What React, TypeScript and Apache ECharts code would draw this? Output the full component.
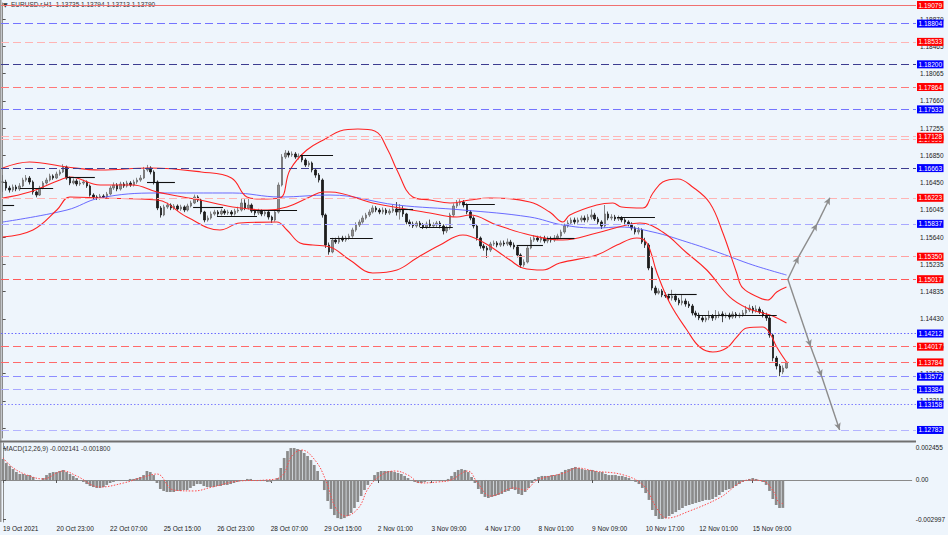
import React, { useEffect, useRef } from 'react';
import * as echarts from 'echarts';

const N_SLOTS = 272;
const LABEL_STEP = 16;
const FONT = '"Liberation Sans", Arial, sans-serif';

const timeLabels = ['19 Oct 2021', '20 Oct 23:00', '22 Oct 07:00', '25 Oct 15:00', '26 Oct 23:00', '28 Oct 07:00', '29 Oct 15:00', '2 Nov 01:00', '3 Nov 09:00', '4 Nov 17:00', '8 Nov 01:00', '9 Nov 09:00', '10 Nov 17:00', '12 Nov 01:00', '15 Nov 09:00'];

const closes = [
  1.16457, 1.16368, 1.16338, 1.16383, 1.16353, 1.16398, 1.16486, 1.16516, 1.16457, 1.16309,
  1.16264, 1.16368, 1.16442, 1.16486, 1.16546, 1.16516, 1.16575, 1.16605, 1.16679, 1.16516,
  1.16442, 1.16472, 1.16427, 1.16442, 1.16457, 1.16398, 1.16264, 1.16235, 1.16220, 1.16249,
  1.16235, 1.16279, 1.16368, 1.16412, 1.16353, 1.16427, 1.16398, 1.16442, 1.16412, 1.16457,
  1.16486, 1.16516, 1.16635, 1.16664, 1.16605, 1.16457, 1.16072, 1.15968, 1.16087, 1.16116,
  1.16072, 1.16101, 1.16057, 1.16087, 1.16042, 1.16101, 1.16146, 1.16235, 1.16190, 1.16012,
  1.15894, 1.15923, 1.15983, 1.16012, 1.15983, 1.16027, 1.15998, 1.16012, 1.15983, 1.16027,
  1.16042, 1.16146, 1.16072, 1.16116, 1.16027, 1.15998, 1.16027, 1.15983, 1.16012, 1.15938,
  1.15894, 1.16012, 1.16412, 1.16827, 1.16886, 1.16857, 1.16872, 1.16827, 1.16842, 1.16783,
  1.16709, 1.16738, 1.16635, 1.16560, 1.16486, 1.15968, 1.15523, 1.15420, 1.15597, 1.15568,
  1.15627, 1.15597, 1.15627, 1.15656, 1.15746, 1.15820, 1.15864, 1.15923, 1.15968, 1.16012,
  1.16072, 1.16042, 1.16012, 1.16042, 1.15998, 1.16027, 1.16057, 1.16012, 1.16042, 1.15983,
  1.15864, 1.15835, 1.15805, 1.15849, 1.15820, 1.15790, 1.15835, 1.15805, 1.15820, 1.15849,
  1.15805, 1.15731, 1.15775, 1.15968, 1.16101, 1.16146, 1.16161, 1.16116, 1.16012, 1.15923,
  1.15805, 1.15627, 1.15509, 1.15479, 1.15449, 1.15538, 1.15553, 1.15523, 1.15553, 1.15538,
  1.15568, 1.15523, 1.15494, 1.15375, 1.15227, 1.15271, 1.15479, 1.15597, 1.15627, 1.15597,
  1.15627, 1.15583, 1.15612, 1.15597, 1.15627, 1.15656, 1.15716, 1.15805, 1.15849, 1.15894,
  1.15864, 1.15894, 1.15923, 1.15894, 1.15938, 1.15968, 1.15909, 1.15864, 1.15805, 1.15983,
  1.15923, 1.15938, 1.15909, 1.15923, 1.15894, 1.15864, 1.15835, 1.15775, 1.15716, 1.15746,
  1.15568, 1.15523, 1.15183, 1.14887, 1.14812, 1.14842, 1.14783, 1.14768, 1.14738, 1.14768,
  1.14709, 1.14664, 1.14694, 1.14649, 1.14620, 1.14516, 1.14486, 1.14442, 1.14412, 1.14442,
  1.14472, 1.14442, 1.14472, 1.14501, 1.14472, 1.14486, 1.14457, 1.14501, 1.14472, 1.14486,
  1.14516, 1.14560, 1.14590, 1.14546, 1.14575, 1.14531, 1.14486, 1.14442, 1.14190, 1.13849,
  1.13731, 1.13642, 1.13701, 1.13790,
];

const highs = [
  1.16560, 1.16490, 1.16400, 1.16420, 1.16415, 1.16440, 1.16520, 1.16560, 1.16545, 1.16480,
  1.16330, 1.16400, 1.16470, 1.16520, 1.16580, 1.16570, 1.16610, 1.16640, 1.16720, 1.16700,
  1.16540, 1.16510, 1.16500, 1.16480, 1.16490, 1.16480, 1.16420, 1.16290, 1.16260, 1.16280,
  1.16275, 1.16310, 1.16400, 1.16450, 1.16440, 1.16460, 1.16455, 1.16475, 1.16470, 1.16490,
  1.16520, 1.16560, 1.16680, 1.16710, 1.16690, 1.16630, 1.16480, 1.16100, 1.16120, 1.16150,
  1.16140, 1.16130, 1.16125, 1.16120, 1.16110, 1.16135, 1.16180, 1.16270, 1.16260, 1.16210,
  1.16030, 1.15960, 1.16020, 1.16045, 1.16040, 1.16060, 1.16055, 1.16045, 1.16040, 1.16060,
  1.16090, 1.16220, 1.16200, 1.16210, 1.16140, 1.16050, 1.16060, 1.16050, 1.16040, 1.16030,
  1.15960, 1.16050, 1.16450, 1.16870, 1.16930, 1.16920, 1.16910, 1.16900, 1.16880, 1.16870,
  1.16810, 1.16770, 1.16760, 1.16660, 1.16590, 1.16510, 1.15990, 1.15560, 1.15630, 1.15630,
  1.15660, 1.15660, 1.15660, 1.15690, 1.15780, 1.15860, 1.15900, 1.15960, 1.16000, 1.16050,
  1.16110, 1.16100, 1.16070, 1.16080, 1.16070, 1.16060, 1.16120, 1.16160, 1.16130, 1.16100,
  1.16000, 1.15900, 1.15870, 1.15880, 1.15880, 1.15850, 1.15870, 1.15900, 1.15860, 1.15880,
  1.15880, 1.15830, 1.15810, 1.16000, 1.16140, 1.16190, 1.16200, 1.16190, 1.16140, 1.16040,
  1.15950, 1.15830, 1.15650, 1.15540, 1.15510, 1.15570, 1.15590, 1.15580, 1.15590, 1.15590,
  1.15620, 1.15600, 1.15560, 1.15520, 1.15400, 1.15310, 1.15510, 1.15640, 1.15670, 1.15660,
  1.15660, 1.15660, 1.15650, 1.15650, 1.15670, 1.15690, 1.15750, 1.15840, 1.15890, 1.15930,
  1.15930, 1.15930, 1.15960, 1.15960, 1.15980, 1.16050, 1.16000, 1.15940, 1.15890, 1.16116,
  1.16020, 1.15980, 1.15970, 1.15960, 1.15950, 1.15920, 1.15890, 1.15860, 1.15800, 1.15790,
  1.15770, 1.15630, 1.15550, 1.15210, 1.14920, 1.14880, 1.14870, 1.14820, 1.14800, 1.14860,
  1.14800, 1.14740, 1.14790, 1.14730, 1.14690, 1.14650, 1.14550, 1.14520, 1.14470, 1.14480,
  1.14550, 1.14500, 1.14560, 1.14540, 1.14540, 1.14520, 1.14520, 1.14540, 1.14530, 1.14520,
  1.14560, 1.14620, 1.14640, 1.14620, 1.14630, 1.14610, 1.14560, 1.14520, 1.14470, 1.14210,
  1.13880, 1.13760, 1.13740, 1.13794,
];

const lows = [
  1.16309, 1.16330, 1.16300, 1.16310, 1.16320, 1.16325, 1.16380, 1.16460, 1.16420, 1.16270,
  1.16230, 1.16250, 1.16350, 1.16420, 1.16465, 1.16490, 1.16500, 1.16550, 1.16590, 1.16490,
  1.16410, 1.16420, 1.16395, 1.16400, 1.16415, 1.16370, 1.16240, 1.16205, 1.16190, 1.16195,
  1.16205, 1.16210, 1.16260, 1.16340, 1.16320, 1.16330, 1.16370, 1.16375, 1.16385, 1.16390,
  1.16430, 1.16460, 1.16500, 1.16610, 1.16570, 1.16420, 1.16040, 1.15930, 1.15950, 1.16060,
  1.16040, 1.16045, 1.16030, 1.16030, 1.16010, 1.16020, 1.16080, 1.16130, 1.16160, 1.15980,
  1.15860, 1.15870, 1.15900, 1.15960, 1.15955, 1.15960, 1.15970, 1.15970, 1.15955, 1.15960,
  1.16000, 1.16020, 1.16040, 1.16050, 1.16000, 1.15960, 1.15970, 1.15950, 1.15950, 1.15900,
  1.15850, 1.15870, 1.15990, 1.16390, 1.16800, 1.16820, 1.16830, 1.16800, 1.16790, 1.16750,
  1.16680, 1.16680, 1.16600, 1.16520, 1.16450, 1.15930, 1.15480, 1.15380, 1.15400, 1.15540,
  1.15540, 1.15570, 1.15570, 1.15600, 1.15630, 1.15720, 1.15790, 1.15840, 1.15900, 1.15940,
  1.15990, 1.16010, 1.15980, 1.15980, 1.15970, 1.15970, 1.16000, 1.15960, 1.15900, 1.15940,
  1.15830, 1.15800, 1.15775, 1.15780, 1.15790, 1.15760, 1.15760, 1.15775, 1.15775, 1.15790,
  1.15770, 1.15680, 1.15700, 1.15750, 1.15940, 1.16070, 1.16110, 1.16080, 1.15980, 1.15890,
  1.15770, 1.15590, 1.15470, 1.15440, 1.15331, 1.15420, 1.15510, 1.15490, 1.15495, 1.15505,
  1.15510, 1.15490, 1.15460, 1.15340, 1.15183, 1.15200, 1.15250, 1.15460, 1.15570, 1.15570,
  1.15560, 1.15550, 1.15550, 1.15560, 1.15570, 1.15600, 1.15630, 1.15690, 1.15780, 1.15820,
  1.15830, 1.15840, 1.15860, 1.15860, 1.15860, 1.15900, 1.15880, 1.15830, 1.15760, 1.15780,
  1.15890, 1.15890, 1.15880, 1.15880, 1.15860, 1.15830, 1.15800, 1.15740, 1.15680, 1.15680,
  1.15540, 1.15480, 1.15150, 1.14850, 1.14780, 1.14790, 1.14750, 1.14740, 1.14700, 1.14700,
  1.14680, 1.14630, 1.14630, 1.14610, 1.14590, 1.14480, 1.14450, 1.14410, 1.14380, 1.14380,
  1.14410, 1.14400, 1.14410, 1.14440, 1.14380, 1.14440, 1.14420, 1.14430, 1.14440, 1.14440,
  1.14460, 1.14490, 1.14530, 1.14510, 1.14520, 1.14500, 1.14450, 1.14400, 1.14150, 1.13800,
  1.13680, 1.13580, 1.13610, 1.13690,
];

const macdValues = [
  0.00161, 0.00130, 0.00107, 0.00084, 0.00061, 0.00046, 0.00046, 0.00038, 0.00038, 0.00023,
  0.00000, -0.00008, 0.00015, 0.00038, 0.00054, 0.00061, 0.00061, 0.00069, 0.00077, 0.00061,
  0.00046, 0.00031, 0.00015, 0.00000, -0.00015, -0.00031, -0.00046, -0.00054, -0.00061, -0.00061,
  -0.00054, -0.00038, -0.00023, -0.00015, -0.00008, -0.00008, 0.00000, 0.00000, 0.00008, 0.00008,
  0.00015, 0.00023, 0.00038, 0.00069, 0.00061, 0.00038, -0.00023, -0.00069, -0.00084, -0.00092,
  -0.00092, -0.00092, -0.00084, -0.00084, -0.00077, -0.00077, -0.00061, -0.00046, -0.00031, -0.00031,
  -0.00046, -0.00054, -0.00054, -0.00054, -0.00046, -0.00046, -0.00038, -0.00038, -0.00031, -0.00023,
  -0.00015, -0.00008, 0.00000, 0.00008, 0.00008, 0.00000, -0.00008, -0.00008, -0.00008, -0.00015,
  -0.00015, -0.00008, 0.00015, 0.00092, 0.00169, 0.00222, 0.00245, 0.002455, 0.00238, 0.00230,
  0.00207, 0.00184, 0.00153, 0.00115, 0.00069, 0.00000, -0.00077, -0.00161, -0.00222, -0.00269,
  -0.00292, -0.002997, -0.00292, -0.00276, -0.00253, -0.00215, -0.00169, -0.00123, -0.00077, -0.00038,
  0.00000, 0.00038, 0.00061, 0.00069, 0.00069, 0.00069, 0.00069, 0.00061, 0.00054, 0.00046,
  0.00031, 0.00015, 0.00000, -0.00015, -0.00023, -0.00023, -0.00015, -0.00008, -0.00008, -0.00008,
  -0.00008, -0.00008, -0.00008, 0.00008, 0.00031, 0.00061, 0.00077, 0.00084, 0.00077, 0.00061,
  0.00023, -0.00023, -0.00069, -0.00107, -0.00130, -0.00138, -0.00130, -0.00123, -0.00115, -0.00107,
  -0.00092, -0.00084, -0.00069, -0.00077, -0.00107, -0.00115, -0.00092, -0.00061, -0.00023, 0.00008,
  0.00023, 0.00031, 0.00031, 0.00031, 0.00038, 0.00038, 0.00046, 0.00061, 0.00077, 0.00084,
  0.00092, 0.00100, 0.00092, 0.00084, 0.00077, 0.00077, 0.00077, 0.00069, 0.00061, 0.00061,
  0.00046, 0.00038, 0.00038, 0.00038, 0.00031, 0.00031, 0.00023, 0.00015, 0.00000, -0.00015,
  -0.00031, -0.00061, -0.00100, -0.00153, -0.00230, -0.00276, -0.00299, -0.00299, -0.00292, -0.00276,
  -0.00261, -0.00246, -0.00230, -0.00215, -0.00199, -0.00192, -0.00184, -0.00176, -0.00169, -0.00161,
  -0.00153, -0.00153, -0.00146, -0.00130, -0.00115, -0.00092, -0.00077, -0.00069, -0.00061, -0.00046,
  -0.00031, -0.00015, 0.00000, 0.00008, 0.00015, 0.00008, 0.00000, -0.00015, -0.00038, -0.00084,
  -0.00146, -0.00192, -0.00215, -0.002141,
];

// [bar index, value]
const macdSignal = [
  [0, 0.00169], [3.1, 0.00092], [7.2, 0.00038], [12, 0.00008], [18, 0.00069], [22, 0.00031], [29, -0.00054],
  [36, -0.00023], [42, 0.00023], [46, 0.00046], [51, -0.00077], [57, -0.00084], [62.5, -0.00054], [70.5, -0.00008],
  [78.5, 0], [83.3, 0.00031], [86.3, 0.00184], [89.2, 0.0023], [93.4, 0.00146], [96.4, 0], [99.4, -0.00215],
  [102.3, -0.00276], [106.2, -0.00215], [109.2, -0.00061], [113, 0.00038], [117.2, 0.00069], [121, 0.00038],
  [124.9, -0.00023], [130, -0.00015], [133.8, 0], [138.9, 0.00069], [141.8, -0.00023], [145.7, -0.00123],
  [152.8, -0.00061], [155.8, -0.00077], [159.7, 0], [167.7, 0.00054], [171.6, 0.00092], [176.6, 0.00069],
  [185.5, 0.00038], [191.5, -0.00046], [195.3, -0.00215], [198.3, -0.00292], [205.1, -0.00238], [214, -0.00138],
  [223, 0], [227.1, -0.00008], [230.1, -0.00084], [232, -0.00176], [233, -0.0018],
];

const bbUpper = [
  [0, 1.16664], [8, 1.16753], [19, 1.16679], [29, 1.16635], [44, 1.16664], [59, 1.16605], [68, 1.16516],
  [72.6, 1.16235], [76.5, 1.16205], [82.4, 1.1622], [85.4, 1.16635], [90.4, 1.16931], [96.4, 1.17109],
  [100.3, 1.17213], [105.6, 1.17242], [110.6, 1.17213], [114.5, 1.16931], [117.2, 1.16635], [121.9, 1.16235],
  [127, 1.1619], [133, 1.16146], [138.9, 1.1619], [144.8, 1.1622], [156.7, 1.16161], [162.6, 1.16012],
  [166.5, 1.15864], [168.6, 1.15968], [176.6, 1.16116], [181.4, 1.16146], [184, 1.16086], [190.3, 1.16072],
  [193.3, 1.16294], [196.2, 1.16457], [200.7, 1.16501], [205.1, 1.16383], [210.2, 1.16146], [214.1, 1.15701],
  [218.2, 1.15109], [220, 1.14887], [225.1, 1.14739], [227.4, 1.14709], [230.1, 1.14828], [233, 1.14902],
];

const bbMiddle = [
  [0, 1.1622], [8, 1.16309], [17, 1.16486], [20, 1.16531], [29, 1.16412], [38.7, 1.16412], [45.9, 1.16309],
  [58.6, 1.1619], [68.4, 1.16087], [78.6, 1.16042], [84.5, 1.16087], [91.3, 1.16235], [95.2, 1.16309],
  [97.3, 1.16309], [110, 1.16146], [127, 1.15998], [135, 1.15938], [138.9, 1.15968], [146.9, 1.1582],
  [156.7, 1.15672], [166.5, 1.15597], [176.6, 1.15701], [184.3, 1.15805], [189.4, 1.15849], [196.2, 1.15716],
  [203.4, 1.15405], [209.3, 1.15153], [216.1, 1.14754], [221.2, 1.1459], [225.9, 1.14516], [228.9, 1.14472],
  [233, 1.14368],
];

const bbLower = [
  [0, 1.15642], [9, 1.15746], [16.1, 1.16042], [20, 1.16235], [28.9, 1.1622], [45.9, 1.1619], [54.8, 1.15938],
  [64.6, 1.15746], [70.5, 1.15849], [81.5, 1.15864], [84.5, 1.15746], [88.4, 1.15553], [92.2, 1.15523],
  [97.3, 1.15494], [103.2, 1.15301], [110, 1.15109], [117.2, 1.15153], [123.1, 1.15331], [130, 1.15523],
  [136.8, 1.15672], [142.7, 1.15568], [150.8, 1.15301], [154.6, 1.15183], [160.6, 1.15153], [165.6, 1.15257],
  [176.6, 1.15375], [182.6, 1.15523], [188.5, 1.15627], [191.5, 1.15553], [194.5, 1.15109], [198.3, 1.14664],
  [203.4, 1.14264], [207.2, 1.14012], [211.1, 1.13938], [215.2, 1.13997], [218.2, 1.1416], [221.2, 1.14294],
  [225.9, 1.14309], [228, 1.1422], [230.1, 1.14012], [233, 1.1379],
];

const maSlow = [
  [0, 1.15864], [19.1, 1.16042], [28.9, 1.1622], [45.9, 1.16294], [68.4, 1.16294], [82.4, 1.16235],
  [97.3, 1.16264], [117.2, 1.16116], [136.8, 1.16042], [156.7, 1.15938], [166.5, 1.1582], [176.6, 1.15775],
  [183.5, 1.1579], [193.3, 1.15716], [203.4, 1.15568], [213.2, 1.15405], [223, 1.15227], [233, 1.15079],
];

// [start bar, end bar, price]
const pivotSegments = [
  [0, 3.4, 1.16116], [5.1, 15, 1.16368], [19, 27.4, 1.16531], [42.9, 51.2, 1.16457], [56.6, 65.5, 1.16087],
  [63.7, 75.6, 1.15953], [74.4, 87.5, 1.16042], [88.4, 98.2, 1.16857], [97.3, 110, 1.15627],
  [117.2, 122, 1.16057], [124, 133.8, 1.1579], [136.8, 146.3, 1.16131], [152.8, 160.6, 1.15523],
  [161.8, 170, 1.15627], [182.6, 193.9, 1.15938], [197.7, 206.3, 1.14798], [206.3, 230.1, 1.14486],
];

const upArrowPath = [[233.4, 1.15017], [236.6, 1.1535], [242.1, 1.15837], [245.9, 1.16223]];
const downArrowPath = [[233.4, 1.15017], [240.2, 1.14017], [243.5, 1.13572], [248.8, 1.12783]];

const levelPrices = [1.19079, 1.18804, 1.18533, 1.182, 1.17864, 1.17533, 1.1709, 1.17128, 1.16663, 1.16223,
  1.15837, 1.1535, 1.15017, 1.14212, 1.14017, 1.13784, 1.13572, 1.13384, 1.13158, 1.12783];

const priceTicks = [1.1887, 1.18465, 1.18065, 1.1766, 1.17255, 1.1685, 1.1645, 1.16045, 1.1564, 1.15235,
  1.14835, 1.1443, 1.14025, 1.1362, 1.13215, 1.1281];

const macdTicks = [0.002455, 0, -0.002997];
const macdTickLabels = ['0.002455', '0.00', '-0.002997'];

const headerText = 'EURUSD.r,H1  1.13735 1.13794 1.13713 1.13790';
const macdHeaderText = 'MACD(12,26,9) -0.002141 -0.001800';

// style per level (line colour, line type, box colour)
const DASH = [8, 4];
const DOT = [1.5, 2];
const LEVEL_STYLE: [string, any, string][] = [
  ['#f07070', 'solid', '#ff0000'],
  ['#7474ff', DASH, '#0000ff'],
  ['#ffb4b4', DASH, '#ff0000'],
  ['#3c3c90', DASH, '#0000ff'],
  ['#ff7878', DASH, '#ff0000'],
  ['#7474ff', DASH, '#0000ff'],
  ['#ffb4b4', DASH, '#ff0000'],
  ['#ffb4b4', DASH, '#ff0000'],
  ['#3c3c90', DASH, '#0000ff'],
  ['#ffb4b4', DASH, '#ff0000'],
  ['#a8a8ff', DASH, '#0000ff'],
  ['#ffa0a0', DASH, '#ff0000'],
  ['#ff5a5a', DASH, '#ff0000'],
  ['#6a6aff', DOT, '#0000ff'],
  ['#ff6a6a', DASH, '#ff0000'],
  ['#ff6a6a', DASH, '#ff0000'],
  ['#8c8cff', DASH, '#0000ff'],
  ['#a8a8ff', DASH, '#0000ff'],
  ['#8080ff', DOT, '#0000ff'],
  ['#b4b4ff', DASH, '#0000ff'],
];

const BG = '#eef5fc';

export default function App() {
  const ref = useRef<HTMLDivElement>(null);
  useEffect(() => {
    document.body.style.margin = '0';
    if (!ref.current) return;
    const chart = echarts.init(ref.current, undefined, { renderer: 'svg' });

    const cats = Array.from({ length: N_SLOTS }, (_, i) => String(i));
    const showLabel = (i: number) => i % LABEL_STEP === 0 && i / LABEL_STEP < timeLabels.length;
    const candles = closes.map((c, i) => [i === 0 ? c : closes[i - 1], c, lows[i], highs[i]]);

    const levelLines = levelPrices.map((v, k) => [
      {
        coord: [-0.5, v],
        lineStyle: { color: LEVEL_STYLE[k][0], type: LEVEL_STYLE[k][1], width: 1 },
        label: {
          show: true,
          position: 'end',
          distance: 1,
          formatter: () => v.toFixed(5),
          color: '#ffffff',
          backgroundColor: LEVEL_STYLE[k][2],
          fontSize: 6.5,
          fontFamily: FONT,
          lineHeight: 7,
          padding: [1, 1.5, 0, 1.5],
        },
      },
      { coord: [N_SLOTS - 0.5, v] },
    ]);

    const segLines = pivotSegments.map(([s, e, p]) => [{ coord: [s, p] }, { coord: [e, p] }]);
    const arrowLines: any[] = [];
    [upArrowPath, downArrowPath].forEach((path) => {
      for (let k = 0; k < path.length - 1; k++) {
        arrowLines.push([{ coord: path[k] }, { coord: path[k + 1] }]);
      }
    });

    const option: any = {
      animation: false,
      backgroundColor: BG,
      textStyle: { fontFamily: FONT },
      grid: [
        { left: 1, right: 32, top: 3, height: 435 },
        { left: 1, right: 32, top: 443, height: 79 },
      ],
      xAxis: [
        { type: 'category', gridIndex: 0, data: cats, boundaryGap: true, show: false },
        { type: 'value', gridIndex: 0, min: -0.5, max: N_SLOTS - 0.5, show: false },
        {
          type: 'category', gridIndex: 1, data: cats, boundaryGap: true,
          axisLine: { show: true, lineStyle: { color: '#8a8a8a' } },
          axisTick: { show: true, interval: (i: number) => showLabel(i), alignWithLabel: true, length: 3, lineStyle: { color: '#555' } },
          axisLabel: {
            interval: (i: number) => showLabel(i),
            formatter: (_v: string, i: number) => timeLabels[Math.round(i / LABEL_STEP)] || '',
            align: 'left', fontSize: 6.5, color: '#222', margin: 3, fontFamily: FONT,
          },
        },
        { type: 'value', gridIndex: 1, min: -0.5, max: N_SLOTS - 0.5, show: false },
      ],
      yAxis: [
        {
          type: 'value', gridIndex: 0, position: 'right', min: 1.12664, max: 1.19109,
          axisLine: { show: true, lineStyle: { color: '#8a8a8a' } },
          axisTick: { show: true, length: 3, customValues: priceTicks, lineStyle: { color: '#555' } },
          axisLabel: { customValues: priceTicks, formatter: (v: number) => v.toFixed(5), fontSize: 6.5, color: '#222', margin: 4, fontFamily: FONT, hideOverlap: false },
          splitLine: { show: false },
        },
        {
          type: 'value', gridIndex: 1, position: 'right', min: -0.003222, max: 0.002838,
          axisLine: { show: true, lineStyle: { color: '#8a8a8a' } },
          axisTick: { show: true, length: 3, customValues: macdTicks, lineStyle: { color: '#555' } },
          axisLabel: {
            customValues: macdTicks,
            formatter: (v: number) => {
              let best = 0;
              macdTicks.forEach((t, k) => { if (Math.abs(t - v) < Math.abs(macdTicks[best] - v)) best = k; });
              return macdTickLabels[best];
            },
            fontSize: 6.5, color: '#222', margin: 4, fontFamily: FONT,
          },
          splitLine: { show: false },
        },
      ],
      series: [
        {
          // host of the horizontal level lines (single point, no visible line)
          type: 'line', xAxisIndex: 1, yAxisIndex: 0, data: [[-0.5, levelPrices[0]]], showSymbol: false, z: 1,
          lineStyle: { opacity: 0 },
          markLine: { silent: true, symbol: 'none', data: levelLines, animation: false },
        },
        {
          type: 'candlestick', xAxisIndex: 0, yAxisIndex: 0, data: candles, barWidth: 2, z: 3,
          itemStyle: { color: '#8c8c8c', color0: '#1c1c1c', borderColor: '#6c6c6c', borderColor0: '#1c1c1c', borderWidth: 0.8 },
        },
        {
          type: 'line', xAxisIndex: 1, yAxisIndex: 0, data: maSlow, smooth: 0.4, showSymbol: false, z: 4,
          lineStyle: { color: '#5a5aff', width: 0.9 },
          markLine: {
            silent: true, symbol: 'none',
            lineStyle: { color: '#111111', width: 1.1, type: 'solid' },
            label: { show: false },
            data: segLines,
          },
        },
        {
          type: 'line', xAxisIndex: 1, yAxisIndex: 0, data: bbUpper, smooth: 0.4, showSymbol: false, z: 4,
          lineStyle: { color: '#ff2424', width: 1.1 },
        },
        {
          type: 'line', xAxisIndex: 1, yAxisIndex: 0, data: bbMiddle, smooth: 0.4, showSymbol: false, z: 4,
          lineStyle: { color: '#ff2424', width: 1.1 },
          markLine: {
            silent: true, symbol: ['none', 'arrow'], symbolSize: [5, 7],
            lineStyle: { color: '#8c8c8c', width: 1.4, type: 'solid' },
            label: { show: false },
            data: arrowLines,
          },
        },
        {
          type: 'line', xAxisIndex: 1, yAxisIndex: 0, data: bbLower, smooth: 0.4, showSymbol: false, z: 4,
          lineStyle: { color: '#ff2424', width: 1.1 },
        },
        {
          type: 'bar', xAxisIndex: 2, yAxisIndex: 1, data: macdValues, barWidth: 2.7,
          itemStyle: { color: '#8a8a8a' },
        },
        {
          type: 'line', xAxisIndex: 3, yAxisIndex: 1, data: macdSignal, smooth: 0.4, showSymbol: false,
          lineStyle: { color: '#ff4a4a', width: 1, type: [1.5, 1.5] },
        },
      ],
      graphic: [
        { type: 'rect', left: 0, top: 0, shape: { width: 1.5, height: 522 }, style: { fill: '#9a9a9a' }, silent: true },
        { type: 'rect', left: 0, top: 440.5, shape: { width: 916, height: 2 }, style: { fill: '#707070' }, silent: true },
        { type: 'text', left: 3, top: 1, style: { text: '▼', fontSize: 6, fill: '#333', fontFamily: '"DejaVu Sans", sans-serif' }, silent: true },
        { type: 'text', left: 11, top: 1, style: { text: headerText, fontSize: 6.5, fill: '#333', fontFamily: FONT }, silent: true },
        { type: 'text', left: 3, top: 445, style: { text: macdHeaderText, fontSize: 6.5, fill: '#333', fontFamily: FONT }, silent: true },
      ],
    };
    chart.setOption(option);
    return () => chart.dispose();
  }, []);
  return <div ref={ref} style={{ width: 948, height: 535, background: BG }} />;
}
